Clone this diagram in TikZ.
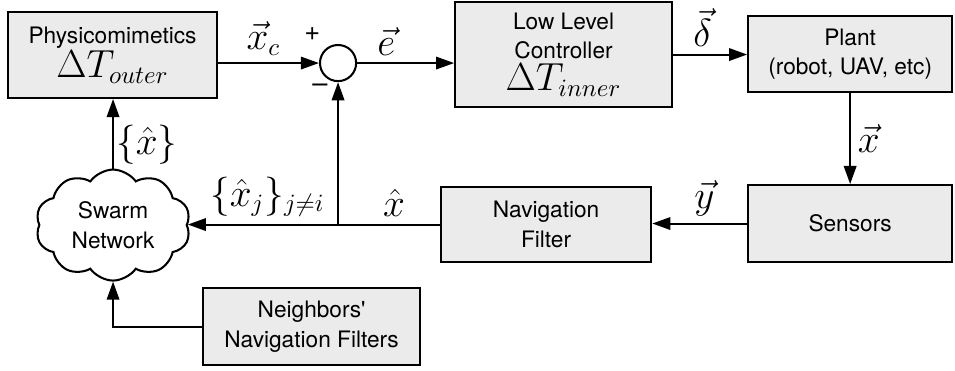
\documentclass[tikz,border=0pt]{standalone}
\usepackage{amsmath,amssymb}
\usepackage{fontspec}
\setmainfont{TeX Gyre Heros}
\usepackage{xcolor}
\usepackage{tikz}
\usetikzlibrary{arrows.meta, positioning, shapes.symbols, calc}
\definecolor{BoxFill}{RGB}{235, 235, 235}

\begin{document}
\begin{tikzpicture}[
    font=\fontsize{10}{13}\selectfont,
    block/.style={rectangle, draw=black, fill=BoxFill, line width=0.9pt, align=center, inner sep=2pt},
    sumnode/.style={circle, draw=black, fill=white, line width=0.9pt, minimum size=0.56cm, inner sep=0pt},
    netcloud/.style={cloud, cloud puffs=10, cloud puff arc=110, aspect=1.4, draw=black, fill=white, line width=0.9pt, align=center, minimum width=2.4cm, minimum height=1.72cm, inner sep=0pt},
    sig/.style={-{Triangle[length=8pt, width=5.5pt]}, line width=0.9pt},
    wire/.style={line width=0.9pt},
    lbl/.style={font=\fontsize{16}{18}\selectfont, inner sep=3pt}
]
    \useasboundingbox (0, 0) rectangle (14.8, -5.735);

    % Forward path blocks
    \node[block, minimum width=3.24cm, minimum height=1.33cm] (phys) at (1.744, -0.853) {Physicomimetics\\{\fontsize{16}{16}\selectfont$\Delta T_{outer}$}};
    \node[sumnode] (sum) at (5.239, -0.977) {};
    \node[block, minimum width=3.36cm, minimum height=1.63cm] (llc) at (8.734, -0.845) {Low Level\\Controller\\[1pt]{\fontsize{16}{16}\selectfont$\Delta T_{inner}$}};
    \node[block, minimum width=3.16cm, minimum height=1.18cm] (plant) at (13.175, -0.837) {Plant\\(robot, UAV, etc)};

    % Feedback path blocks
    \node[block, minimum width=3.16cm, minimum height=1.19cm] (sens) at (13.175, -3.464) {Sensors};
    \node[block, minimum width=3.26cm, minimum height=1.16cm] (nav) at (8.463, -3.48) {Navigation\\Filter};
    \node[netcloud] (net) at (1.752, -3.488) {Swarm\\Network};
    \node[block, minimum width=3.36cm, minimum height=1.19cm] (neigh) at (4.828, -5.061) {Neighbors\textquotesingle\\Navigation Filters};

    % Sign marks on the summing junction
    \node[font=\fontsize{12}{12}\selectfont] (plus) at (4.84, -0.53) {+};
    \node[font=\fontsize{12}{12}\selectfont] (minus) at (4.96, -1.37) {--};

    % Signals
    \draw[sig] (sum.west -| phys.east) -- node[lbl, above, pos=0.45] {$\vec{x}_c$} (sum.west);
    \draw[sig] (sum.east) -- node[lbl, above, pos=0.3] {$\vec{e}$} (sum.east -| llc.west);
    \draw[sig] (llc.east) -- node[lbl, above, pos=0.4] {$\vec{\delta}$} (llc.east -| plant.west);
    \draw[sig] (plant.south) -- node[lbl, right] {$\vec{x}$} (sens.north);
    \draw[sig] (sens.west) -- node[lbl, above, pos=0.45] {$\vec{y}$} (sens.west -| nav.east);

    \coordinate (tap) at (sum |- nav.west);
    \draw[wire] (nav.west) -- node[lbl, above, pos=0.45] {$\hat{x}$} (tap);
    \draw[sig] (tap) -- node[lbl, above, pos=0.47] {$\{\hat{x}_j\}_{j\neq i}$} (tap -| net.east);
    \draw[sig] (tap) -- (sum.south);

    \draw[sig] (net.north) -- node[lbl, right, inner sep=1pt, pos=0.35] {$\{\hat{x}\}$} (net.north |- phys.south);
    \draw[sig] (neigh.west) -| (net.south);

\end{tikzpicture}
\end{document}
